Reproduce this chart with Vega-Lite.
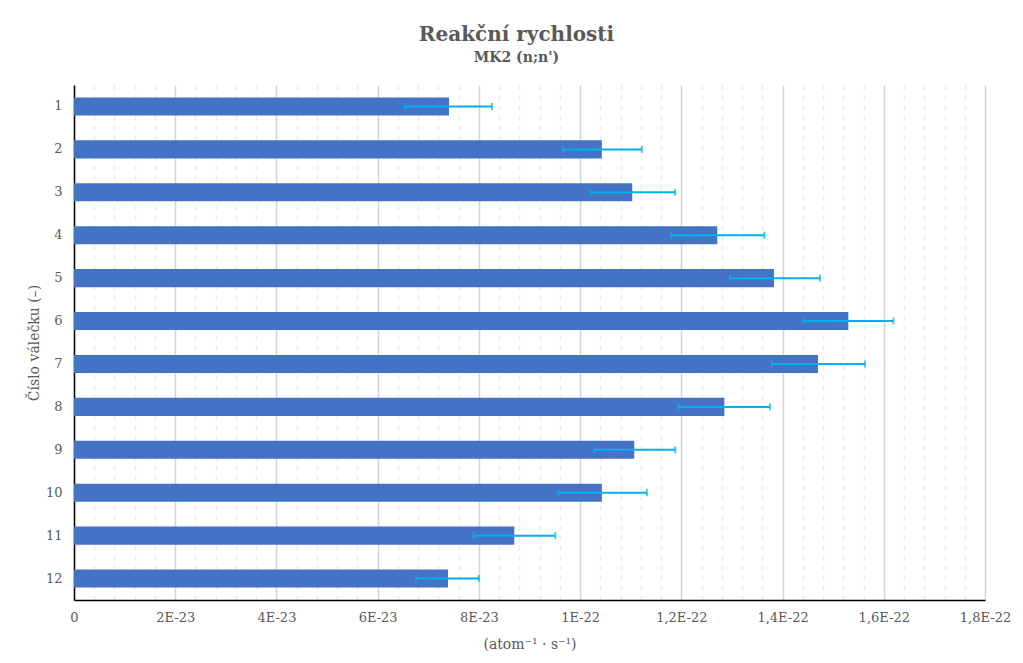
{
  "$schema": "https://vega.github.io/schema/vega-lite/v6.json",
  "width": 911,
  "height": 515,
  "autosize": "none",
  "padding": {"left": 74, "top": 85, "right": 38, "bottom": 63},
  "background": "white",
  "title": {
    "text": "Reakční rychlosti",
    "subtitle": "MK2 (n;n')",
    "anchor": "middle",
    "dx": -13,
    "offset": 20,
    "font": "DejaVu Serif",
    "fontSize": 20,
    "fontWeight": "bold",
    "color": "#595959",
    "subtitleFont": "DejaVu Serif",
    "subtitleFontSize": 14,
    "subtitleFontWeight": "bold",
    "subtitleColor": "#595959",
    "subtitlePadding": 6
  },
  "data": {
    "values": [
      {"valecek": "1", "rychlost": 7.41e-23, "lo": 6.54e-23, "hi": 8.26e-23},
      {"valecek": "2", "rychlost": 10.43e-23, "lo": 9.66e-23, "hi": 11.22e-23},
      {"valecek": "3", "rychlost": 11.03e-23, "lo": 10.2e-23, "hi": 11.88e-23},
      {"valecek": "4", "rychlost": 12.71e-23, "lo": 11.8e-23, "hi": 13.64e-23},
      {"valecek": "5", "rychlost": 13.83e-23, "lo": 12.96e-23, "hi": 14.74e-23},
      {"valecek": "6", "rychlost": 15.30e-23, "lo": 14.41e-23, "hi": 16.19e-23},
      {"valecek": "7", "rychlost": 14.70e-23, "lo": 13.79e-23, "hi": 15.63e-23},
      {"valecek": "8", "rychlost": 12.85e-23, "lo": 11.94e-23, "hi": 13.75e-23},
      {"valecek": "9", "rychlost": 11.07e-23, "lo": 10.28e-23, "hi": 11.88e-23},
      {"valecek": "10", "rychlost": 10.43e-23, "lo": 9.57e-23, "hi": 11.32e-23},
      {"valecek": "11", "rychlost": 8.70e-23, "lo": 7.89e-23, "hi": 9.51e-23},
      {"valecek": "12", "rychlost": 7.39e-23, "lo": 6.76e-23, "hi": 8.0e-23}
    ]
  },
  "encoding": {
    "y": {
      "field": "valecek",
      "type": "nominal",
      "sort": null,
      "scale": {"paddingInner": 0.58, "paddingOuter": 0.29},
      "axis": {
        "title": "Číslo válečku (–)",
        "titleFont": "DejaVu Serif",
        "titleFontSize": 14,
        "titleFontWeight": "normal",
        "titleColor": "#595959",
        "titlePadding": 4,
        "labelFont": "DejaVu Serif",
        "labelFontSize": 13,
        "labelFontWeight": "normal",
        "labelColor": "#595959",
        "labelPadding": 12,
        "ticks": false,
        "domainColor": "#000000",
        "domainWidth": 1.5,
        "grid": false
      }
    }
  },
  "layer": [
    {
      "mark": {"type": "bar", "color": "#4472C4"},
      "encoding": {
        "x": {
          "field": "rychlost",
          "type": "quantitative",
          "scale": {"domain": [0, 1.8e-22], "nice": false},
          "axis": {
            "title": "(atom⁻¹ · s⁻¹)",
            "titleFont": "DejaVu Serif",
            "titleFontSize": 14,
            "titleFontWeight": "normal",
            "titleColor": "#595959",
            "titlePadding": 13,
            "tickCount": 100,
            "values": [0, 4e-24, 8e-24, 1.2e-23, 1.6e-23, 2e-23, 2.4e-23, 2.8e-23, 3.2e-23, 3.6e-23, 4e-23, 4.4e-23, 4.8e-23, 5.2e-23, 5.6e-23, 6e-23, 6.4e-23, 6.8e-23, 7.2e-23, 7.6e-23, 8e-23, 8.4e-23, 8.8e-23, 9.2e-23, 9.6e-23, 1e-22, 1.04e-22, 1.08e-22, 1.12e-22, 1.16e-22, 1.2e-22, 1.24e-22, 1.28e-22, 1.32e-22, 1.36e-22, 1.4e-22, 1.44e-22, 1.48e-22, 1.52e-22, 1.56e-22, 1.6e-22, 1.64e-22, 1.68e-22, 1.72e-22, 1.76e-22, 1.8e-22],
            "labelExpr": "abs(datum.value / 2e-23 - round(datum.value / 2e-23)) > 0.01 ? '' : (datum.value == 0 ? '0' : (round(datum.value / 1e-23) < 10 ? round(datum.value / 1e-23) + 'E-23' : replace(round(datum.value / 1e-23) / 10 + '', '.', ',') + 'E-22'))",
            "labelFont": "DejaVu Serif",
            "labelFontSize": 13,
            "labelFontWeight": "normal",
            "labelColor": "#595959",
            "labelPadding": 11,
            "labelOverlap": false,
            "labelFlush": false,
            "ticks": false,
            "domainColor": "#000000",
            "domainWidth": 1.5,
            "grid": true,
            "gridColor": {"condition": {"test": "abs(datum.value / 2e-23 - round(datum.value / 2e-23)) < 0.01", "value": "#d4d4d4"}, "value": "#ececec"},
            "gridDash": {"condition": {"test": "abs(datum.value / 2e-23 - round(datum.value / 2e-23)) < 0.01", "value": []}, "value": [5, 5]},
            "gridWidth": 1.5
          }
        }
      }
    },
    {
      "mark": {"type": "rule", "color": "#00B0F0", "strokeWidth": 2},
      "encoding": {
        "x": {"field": "lo", "type": "quantitative"},
        "x2": {"field": "hi"}
      }
    },
    {
      "mark": {"type": "tick", "color": "#00B0F0", "thickness": 2, "size": 7},
      "encoding": {"x": {"field": "lo", "type": "quantitative"}}
    },
    {
      "mark": {"type": "tick", "color": "#00B0F0", "thickness": 2, "size": 7},
      "encoding": {"x": {"field": "hi", "type": "quantitative"}}
    }
  ],
  "config": {
    "view": {"stroke": null}
  }
}
